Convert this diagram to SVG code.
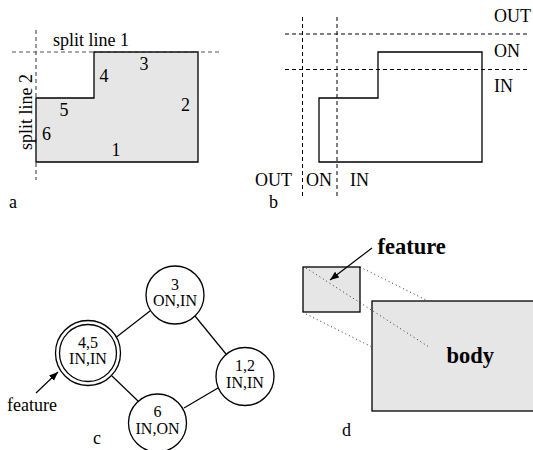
<svg xmlns="http://www.w3.org/2000/svg" width="533" height="450" viewBox="0 0 533 450">
  <style>
    text { font-family: "Liberation Serif", "Times New Roman", serif; font-size: 18px; fill: #000; }
    .mid { text-anchor: middle; }
    .lbl { font-size: 16px; }
    .bold { font-weight: bold; font-size: 22.5px; }
    .outline { fill: none; stroke: #000; stroke-width: 1.3; }
    .shape { fill: #e6e6e6; stroke: #000; stroke-width: 1.3; }
    .split { fill: none; stroke: #555; stroke-width: 1.2; stroke-dasharray: 4 3; }
    .cut { fill: none; stroke: #000; stroke-width: 1; stroke-dasharray: 4 3; }
    .proj { fill: none; stroke: #333; stroke-width: 1; stroke-dasharray: 1 3; }
    .node { fill: #fff; stroke: #000; stroke-width: 1.3; }
    .edge { stroke: #000; stroke-width: 1.2; fill: none; }
  </style>
  <defs>
    <marker id="arrow" viewBox="0 0 10 10" refX="10" refY="5" markerWidth="9" markerHeight="9" markerUnits="userSpaceOnUse" orient="auto">
      <path d="M0,1 L10,5 L0,9 Z" fill="#000"/>
    </marker>
  </defs>
  <rect width="533" height="450" fill="#fff"/>

  <!-- panel a: polygon with its two split lines -->
  <g id="panel-a">
    <polygon class="shape" points="36,98 94,98 94,52 198,52 198,162 36,162"/>
    <line class="split" x1="12" y1="52" x2="222" y2="52"/>
    <line class="split" x1="36" y1="30" x2="36" y2="180"/>
    <text x="53" y="45.5">split line 1</text>
    <text transform="translate(31.5,150) rotate(-90)">split line 2</text>
    <text class="mid" x="144" y="70">3</text>
    <text class="mid" x="104" y="82">4</text>
    <text class="mid" x="185.5" y="111">2</text>
    <text class="mid" x="64" y="116">5</text>
    <text class="mid" x="46.5" y="139.5">6</text>
    <text class="mid" x="116" y="156">1</text>
    <text x="9" y="208">a</text>
  </g>

  <!-- panel b: OUT / ON / IN zones -->
  <g id="panel-b">
    <polygon class="outline" points="319,98 378,98 378,52 482,52 482,162 319,162"/>
    <line class="cut" x1="285" y1="34" x2="530" y2="34"/>
    <line class="cut" x1="285" y1="69.5" x2="530" y2="69.5"/>
    <line class="cut" x1="302.5" y1="17" x2="302.5" y2="197"/>
    <line class="cut" x1="337" y1="17" x2="337" y2="197"/>
    <text x="494" y="21.5">OUT</text>
    <text x="494" y="57">ON</text>
    <text x="494" y="92">IN</text>
    <text x="255" y="185.5">OUT</text>
    <text x="306" y="185.5">ON</text>
    <text x="350" y="185.5">IN</text>
    <text x="269" y="207.5">b</text>
  </g>

  <!-- panel c: adjacency graph of the edges -->
  <g id="connectors">
    <line class="edge" x1="116.5" y1="337" x2="150" y2="311"/>
    <line class="edge" x1="195" y1="316" x2="226" y2="354"/>
    <line class="edge" x1="218" y1="388" x2="184" y2="408"/>
    <line class="edge" x1="112" y1="376" x2="138" y2="401"/>
    <line class="edge" x1="36" y1="393" x2="58" y2="372" marker-end="url(#arrow)"/>
  </g>
  <g id="node-3">
    <circle class="node" cx="175" cy="295" r="29"/>
    <text class="mid lbl" x="175" y="289.5">3</text>
    <text class="mid lbl" x="175" y="306">ON,IN</text>
  </g>
  <g id="node-4-5">
    <circle class="node" cx="88" cy="353" r="32.5"/>
    <circle class="node" cx="88" cy="353" r="28.5"/>
    <text class="mid lbl" x="88" y="347.5">4,5</text>
    <text class="mid lbl" x="88" y="364">IN,IN</text>
  </g>
  <g id="node-1-2">
    <circle class="node" cx="245" cy="376.5" r="29"/>
    <text class="mid lbl" x="245" y="370.5">1,2</text>
    <text class="mid lbl" x="245" y="387.5">IN,IN</text>
  </g>
  <g id="node-6">
    <circle class="node" cx="157.5" cy="423" r="29"/>
    <text class="mid lbl" x="157.5" y="416.5">6</text>
    <text class="mid lbl" x="157.5" y="433.5">IN,ON</text>
  </g>
  <g id="panel-c-labels">
    <text x="7" y="410.5">feature</text>
    <text x="93" y="444">c</text>
  </g>

  <!-- panel d: feature projected onto the body -->
  <g id="panel-d">
    <rect class="shape" x="372" y="301" width="170" height="110"/>
    <rect class="shape" x="303" y="267" width="57" height="45"/>
    <line class="proj" x1="306" y1="268" x2="429" y2="347"/>
    <line class="proj" x1="360" y1="267" x2="428" y2="301"/>
    <line class="proj" x1="306" y1="314" x2="372" y2="347"/>
    <line class="edge" x1="372" y1="248" x2="330" y2="280" marker-end="url(#arrow)"/>
    <text class="bold" x="377.5" y="254">feature</text>
    <text class="bold" x="446.5" y="363">body</text>
    <text x="342" y="436">d</text>
  </g>
</svg>
